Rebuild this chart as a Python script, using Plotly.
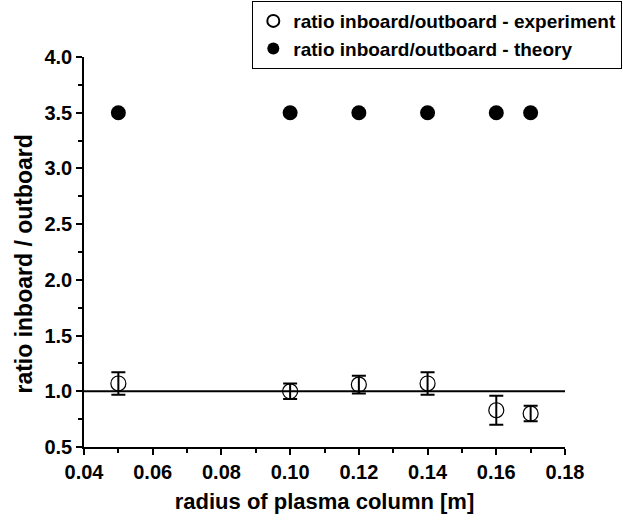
import plotly.graph_objects as go

radius = [0.05, 0.10, 0.12, 0.14, 0.16, 0.17]
ratio_exp = [1.07, 1.00, 1.06, 1.07, 0.83, 0.80]
ratio_exp_err = [0.10, 0.07, 0.08, 0.10, 0.13, 0.07]
ratio_theory = [3.5, 3.5, 3.5, 3.5, 3.5, 3.5]
ref_level = 1.0

FONT = "Liberation Sans, Arial, sans-serif"

fig = go.Figure()
fig.add_trace(go.Scatter(
    x=radius, y=ratio_exp, mode="markers",
    name="ratio inboard/outboard - experiment",
    marker=dict(symbol="circle-open", size=15, color="black", line=dict(width=1.2, color="black")),
    error_y=dict(type="data", array=ratio_exp_err, visible=True, color="black", thickness=2, width=7),
))
fig.add_trace(go.Scatter(
    x=radius, y=ratio_theory, mode="markers",
    name="ratio inboard/outboard - theory",
    marker=dict(symbol="circle", size=15, color="black"),
))
fig.add_shape(type="line", xref="x", yref="y", x0=0.04, x1=0.18, y0=ref_level, y1=ref_level,
              line=dict(color="black", width=2))

axis_common = dict(
    showline=True, linecolor="black", linewidth=1.5, mirror=False,
    ticks="outside", ticklen=6, tickwidth=1.5, tickcolor="black",
    showgrid=False, zeroline=False,
    tickfont=dict(family=FONT, size=20, color="black", weight="bold"),
)
fig.update_xaxes(
    range=[0.04, 0.18], dtick=0.02, tick0=0.04, tickformat=".2f",
    minor=dict(dtick=0.01, ticks="outside", ticklen=4, tickwidth=1.5, tickcolor="black"),
    title=dict(text="radius of plasma column [m]", font=dict(family=FONT, size=22, color="black", weight="bold"), standoff=12),
    **axis_common,
)
fig.update_yaxes(
    range=[0.5, 4.0], dtick=0.5, tick0=0.5, tickformat=".1f",
    minor=dict(dtick=0.25, ticks="outside", ticklen=4, tickwidth=1.5, tickcolor="black"),
    **axis_common,
)
fig.add_annotation(
    text="ratio inboard / outboard", textangle=-90,
    xref="paper", yref="paper", x=-0.125, y=0.47, xanchor="center", yanchor="middle",
    showarrow=False, font=dict(family=FONT, size=23, color="black", weight="bold"),
)
fig.update_layout(
    width=623, height=522,
    margin=dict(l=84, r=58, t=57, b=75, autoexpand=False),
    paper_bgcolor="white", plot_bgcolor="white",
    showlegend=True,
    legend=dict(
        xref="container", yref="container",
        x=0.405, y=0.998, xanchor="left", yanchor="top",
        bordercolor="black", borderwidth=1, bgcolor="white",
        font=dict(family=FONT, size=19, color="black", weight="bold"),
        itemsizing="constant", tracegroupgap=0,
    ),
)
fig.write_html("out.html")
